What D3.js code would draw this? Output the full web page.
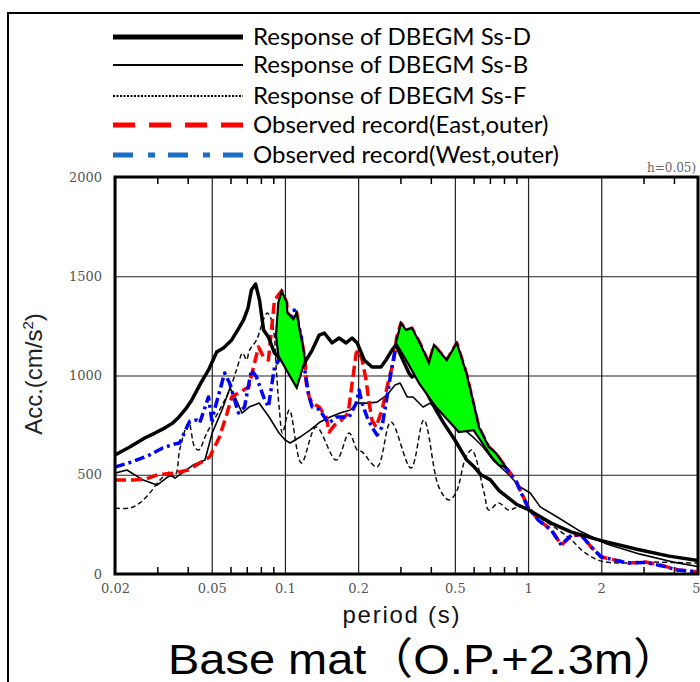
<!DOCTYPE html>
<html>
<head>
<meta charset="utf-8">
<script src="https://cdn.jsdelivr.net/npm/d3@7"></script>
<style>
  body { margin: 0; background: #fff; }
  svg { display: block; }
</style>
</head>
<body>
<svg id="chart" width="700" height="682"></svg>
<script>
// axis ticks
const periodTicks = [0.02, 0.05, 0.1, 0.2, 0.5, 1, 2, 5];
const minorTicks = [0.03, 0.04, 0.06, 0.07, 0.08, 0.09, 0.3, 0.4, 0.6, 0.7, 0.8, 0.9, 3, 4];
const accTicks = [0, 500, 1000, 1500, 2000];

// [period (s), acc (cm/s2)]
const ssD = [[0.02,600],[0.023,640],[0.0265,685],[0.0292,710],[0.032,735],[0.0345,760],[0.0366,790],[0.039,830],[0.0414,877],[0.045,960],[0.0485,1028],[0.0524,1118],[0.056,1140],[0.0604,1179],[0.064,1230],[0.0676,1280],[0.0705,1340],[0.0728,1431],[0.0757,1461],[0.0786,1380],[0.0817,1229],[0.0855,1194],[0.0906,1113],[0.0966,1078],[0.106,1028],[0.113,1040],[0.1202,1063],[0.1295,1128],[0.1384,1204],[0.1451,1214],[0.1564,1164],[0.167,1189],[0.1785,1164],[0.1889,1189],[0.1982,1164],[0.2118,1078],[0.228,1043],[0.2484,1043],[0.2605,1078],[0.2756,1128],[0.2864,1154],[0.303,1088],[0.3236,1013],[0.333,992],[0.3557,1013],[0.391,892],[0.418,826],[0.45,760],[0.5,675],[0.56,574],[0.6,540],[0.64,500],[0.7,474],[0.76,420],[0.82,388],[0.9,350],[1.0,325],[1.1,295],[1.25,255],[1.5,212],[2.0,168],[2.8,125],[3.8,90],[5,68]];
const ssB = [[0.02,508],[0.0224,524],[0.0261,473],[0.0298,448],[0.0337,498],[0.0353,483],[0.0377,508],[0.0419,549],[0.0469,574],[0.0502,710],[0.0551,826],[0.0594,937],[0.0623,892],[0.0666,811],[0.0712,841],[0.0783,861],[0.0861,791],[0.0946,710],[0.1002,675],[0.105,660],[0.1154,690],[0.1268,725],[0.1396,766],[0.1534,791],[0.1687,811],[0.1855,826],[0.1982,861],[0.2179,861],[0.2394,866],[0.263,902],[0.2838,952],[0.2977,962],[0.3183,892],[0.3365,892],[0.3699,841],[0.3955,861],[0.4228,826],[0.492,776],[0.594,690],[0.653,640],[0.718,574],[0.82,509],[0.929,438],[1.021,408],[1.122,338],[1.318,287],[1.64,215],[2.12,150],[2.89,100],[3.95,60],[5,38]];
const ssF = [[0.02,332],[0.023,332],[0.0253,358],[0.0278,408],[0.0306,473],[0.0336,514],[0.0349,489],[0.0359,514],[0.0369,625],[0.0402,761],[0.0425,640],[0.0442,625],[0.0477,710],[0.0538,826],[0.0592,927],[0.0632,1028],[0.067,1113],[0.0695,1078],[0.0715,1128],[0.0764,1179],[0.0824,1295],[0.0847,1315],[0.088,1280],[0.0905,1194],[0.0922,1028],[0.0949,826],[0.0977,710],[0.1043,826],[0.1168,559],[0.1345,740],[0.1625,574],[0.1837,710],[0.1982,625],[0.2077,615],[0.2393,539],[0.2729,766],[0.3298,534],[0.3726,776],[0.4295,438],[0.472,373],[0.505,408],[0.555,589],[0.587,625],[0.66,408],[0.689,322],[0.757,358],[0.832,322],[0.914,338],[1.004,322],[1.104,287],[1.333,222],[1.507,171],[1.719,106],[2.0,65],[2.5,55],[3,60],[4,58],[5,55]];
const obsEast = [[0.02,474],[0.024,474],[0.027,480],[0.03,500],[0.035,508],[0.04,524],[0.0446,559],[0.049,589],[0.0538,690],[0.0575,800],[0.0604,892],[0.065,915],[0.0709,942],[0.0778,1144],[0.0817,1093],[0.0855,1078],[0.0906,1380],[0.097,1426],[0.1017,1367],[0.1023,1316],[0.1083,1283],[0.1118,1316],[0.1154,1215],[0.1184,1148],[0.121,1077],[0.1224,962],[0.1257,892],[0.1295,861],[0.1384,841],[0.1478,791],[0.152,715],[0.16,750],[0.171,776],[0.182,810],[0.189,962],[0.1964,1113],[0.2018,1128],[0.2077,1078],[0.2157,977],[0.222,861],[0.228,776],[0.237,740],[0.2506,826],[0.2672,977],[0.2804,1078],[0.2883,1194],[0.3,1264],[0.315,1229],[0.333,1239],[0.362,1154],[0.391,1063],[0.41,1154],[0.463,1078],[0.509,1164],[0.56,1003],[0.627,741],[0.689,640],[0.736,610],[0.771,574],[0.809,539],[0.889,474],[0.94,408],[1.0,338],[1.104,272],[1.248,222],[1.371,146],[1.507,196],[1.656,196],[1.82,136],[2.0,86],[2.28,70],[2.58,55],[3.03,60],[3.52,45],[4.14,20],[5,10]];
const obsWest = [[0.02,539],[0.0234,564],[0.0278,600],[0.0314,635],[0.0352,655],[0.0369,660],[0.0387,715],[0.0406,770],[0.0434,776],[0.0446,761],[0.0485,892],[0.05,776],[0.0565,1013],[0.0592,962],[0.0644,811],[0.0682,841],[0.0728,1028],[0.0764,992],[0.0817,892],[0.0855,841],[0.0906,1043],[0.0944,1078],[0.098,1190],[0.1093,1330],[0.1168,1194],[0.1202,1043],[0.1224,977],[0.1257,892],[0.1295,841],[0.1384,830],[0.1478,776],[0.152,761],[0.1625,791],[0.172,791],[0.1837,791],[0.1964,861],[0.2018,927],[0.2077,861],[0.2177,790],[0.228,740],[0.2393,700],[0.2506,740],[0.2605,861],[0.2729,1013],[0.2804,1093],[0.2883,1164],[0.3,1240],[0.315,1210],[0.333,1220],[0.362,1140],[0.391,1050],[0.41,1140],[0.463,1065],[0.509,1150],[0.56,990],[0.627,735],[0.689,635],[0.736,605],[0.771,570],[0.809,535],[0.889,470],[0.94,405],[1.0,335],[1.104,270],[1.248,220],[1.371,146],[1.507,196],[1.656,194],[1.82,136],[2.0,86],[2.28,70],[2.58,55],[3.03,58],[3.52,42],[4.14,20],[5,10]];

// green patches where the record exceeds the design response
const exceed1 = [[0.097,1426],[0.1017,1367],[0.1023,1316],[0.1083,1283],[0.1118,1316],[0.1154,1215],[0.1184,1148],[0.121,1077],[0.1118,938],[0.1017,1025],[0.0939,1101],[0.0919,1203],[0.0939,1367]];
const exceed2 = [[0.3,1264],[0.315,1229],[0.333,1239],[0.362,1154],[0.391,1063],[0.41,1154],[0.463,1078],[0.509,1164],[0.56,1003],[0.627,741],[0.689,640],[0.736,610],[0.771,574],[0.809,539],[0.757,549],[0.708,589],[0.644,665],[0.597,725],[0.519,715],[0.418,841],[0.356,962],[0.315,1078],[0.286,1164]];

const legendLabels = ["Response of DBEGM Ss-D", "Response of DBEGM Ss-B", "Response of DBEGM Ss-F",
                      "Observed record(East,outer)", "Observed record(West,outer)"];

const svg = d3.select("#chart");
const plotLeft = 115, plotRight = 698, plotTop = 177, plotBottom = 574;

let x = d3.scaleLog().domain([0.02, 5]).range([plotLeft, plotRight]);
let y = d3.scaleLinear().domain([0, 2000]).range([plotBottom, plotTop]);

// outer frame of the figure
svg.append("path")
   .attr("d", "M8,682V13H700")
   .attr("fill", "none").attr("stroke", "#000").attr("stroke-width", 2);

// grid + tick labels
let xAxis = svg.append("g")
    .attr("transform", `translate(0,${plotBottom})`)
    .call(d3.axisBottom(x).tickValues(periodTicks).tickSize(-(plotBottom - plotTop))
          .tickPadding(10).tickFormat(d => String(d)));
let yAxis = svg.append("g")
    .attr("transform", `translate(${plotLeft},0)`)
    .call(d3.axisLeft(y).tickValues(accTicks).tickSize(-(plotRight - plotLeft))
          .tickPadding(13).tickFormat(d => String(d)));
[xAxis, yAxis].forEach(g => {
    g.select(".domain").remove();
    g.selectAll(".tick line").attr("stroke", "#222").attr("stroke-width", 1.2);
    g.selectAll(".tick text")
     .attr("fill", "#555")
     .style("font-family", "'DejaVu Serif', serif")
     .style("font-size", "13px");
});
// last period label sits at the right edge of the window
xAxis.selectAll(".tick text").filter(d => d === 5).attr("text-anchor", "end").attr("x", 2);

// minor ticks top and bottom
minorTicks.forEach(m => {
    svg.append("line").attr("x1", x(m)).attr("x2", x(m)).attr("y1", plotBottom).attr("y2", plotBottom - 7)
       .attr("stroke", "#000").attr("stroke-width", 1.5);
    svg.append("line").attr("x1", x(m)).attr("x2", x(m)).attr("y1", plotTop).attr("y2", plotTop + 7)
       .attr("stroke", "#000").attr("stroke-width", 1.5);
});

svg.append("clipPath").attr("id", "plotClip")
   .append("rect").attr("x", plotLeft).attr("y", plotTop)
   .attr("width", plotRight - plotLeft).attr("height", plotBottom - plotTop);

let plot = svg.append("g").attr("clip-path", "url(#plotClip)");
let line = d3.line().x(d => x(d[0])).y(d => y(d[1]));
let smooth = d3.line().x(d => x(d[0])).y(d => y(d[1])).curve(d3.curveCatmullRom);

const series = [
    { data: ssF, gen: smooth, color: "#111", width: 1.5, dash: "5,3" },
    { data: ssB, gen: line, color: "#000", width: 1.6, dash: null },
    { data: obsEast, gen: line, color: "#ff0000", width: 3.5, dash: "11,5" },
    { data: obsWest, gen: line, color: "#0000ff", width: 3.5, dash: "10,4,3,4" },
    { data: ssD, gen: line, color: "#000", width: 3.5, dash: null }
];
series.forEach(s => {
    plot.append("path")
        .attr("d", s.gen(s.data))
        .attr("fill", "none")
        .attr("stroke", s.color)
        .attr("stroke-width", s.width)
        .attr("stroke-linejoin", "round")
        .attr("stroke-dasharray", s.dash);
});

[exceed1, exceed2].forEach(poly => {
    plot.append("path")
        .attr("d", line(poly) + "Z")
        .attr("fill", "#00ff00")
        .attr("stroke", "#000")
        .attr("stroke-width", 2.2)
        .attr("stroke-linejoin", "miter");
});

// plot frame
svg.append("rect")
   .attr("x", plotLeft).attr("y", plotTop)
   .attr("width", plotRight - plotLeft).attr("height", plotBottom - plotTop)
   .attr("fill", "none").attr("stroke", "#000").attr("stroke-width", 3);

svg.append("text")
   .attr("x", 647).attr("y", 172)
   .attr("fill", "#666")
   .style("font-family", "'DejaVu Serif', serif").style("font-size", "12px")
   .text("h=0.05)");

// legend
const legendStyles = [
    { color: "#000", width: 5, dash: null },
    { color: "#000", width: 2, dash: null },
    { color: "#000", width: 2, dash: "2,1.5" },
    { color: "#ff0000", width: 5, dash: "22,14" },
    { color: "#1a6fc4", width: 5, dash: "20,15,7,13" }
];
const legendY = [37, 65, 96, 125, 155];
legendLabels.forEach((label, i) => {
    let st = legendStyles[i];
    svg.append("line")
       .attr("x1", 113).attr("x2", 243).attr("y1", legendY[i]).attr("y2", legendY[i])
       .attr("stroke", st.color).attr("stroke-width", st.width)
       .attr("stroke-dasharray", st.dash);
    svg.append("text")
       .attr("x", 253).attr("y", legendY[i] + 8)
       .style("font-family", "Lato, sans-serif").style("font-size", "24px")
       .attr("fill", "#000")
       .text(label);
});

// axis titles
let yTitle = svg.append("text")
    .attr("transform", "translate(42,374) rotate(-90)")
    .attr("text-anchor", "middle")
    .style("font-family", "'Liberation Sans', Arial, sans-serif").style("font-size", "24px")
    .attr("fill", "#222");
yTitle.append("tspan").text("Acc.(cm/s");
yTitle.append("tspan").attr("dy", -9).style("font-size", "15px").text("2");
yTitle.append("tspan").attr("dy", 9).text(")");

svg.append("text")
   .attr("x", 401).attr("y", 623)
   .attr("text-anchor", "middle")
   .attr("textLength", 117)
   .style("font-family", "'Liberation Sans', Arial, sans-serif").style("font-size", "24px")
   .attr("fill", "#111")
   .text("period (s)");

svg.append("text")
   .attr("x", 168).attr("y", 674)
   .attr("textLength", 512)
   .attr("lengthAdjust", "spacingAndGlyphs")
   .style("font-family", "'Liberation Sans', 'Noto Sans CJK JP', sans-serif").style("font-size", "43px")
   .attr("fill", "#000")
   .text("Base mat（O.P.+2.3m）");
</script>
</body>
</html>
